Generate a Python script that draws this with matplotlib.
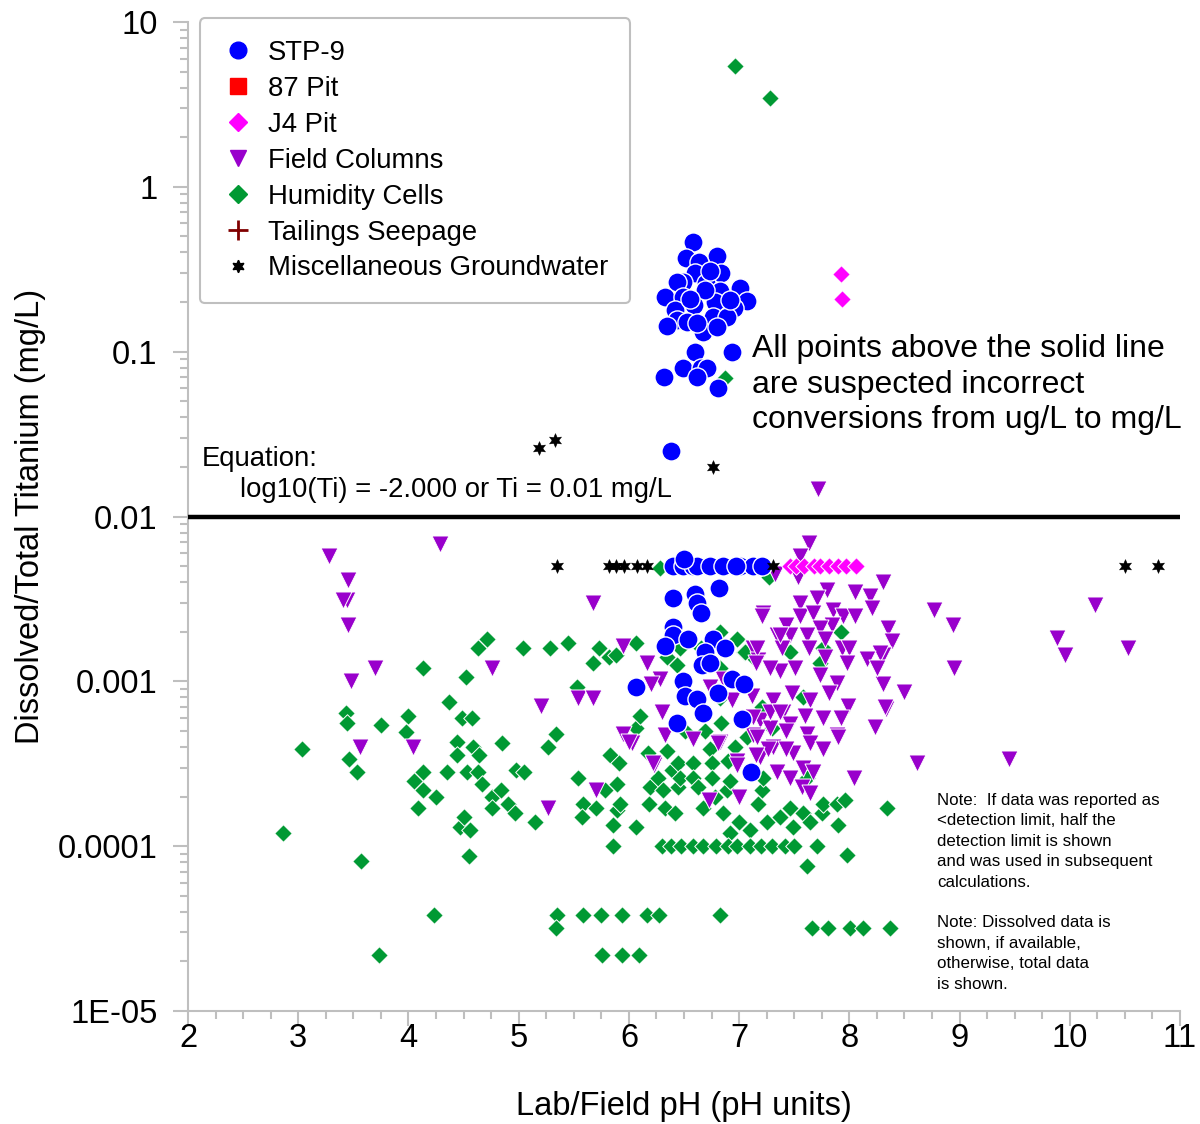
import numpy as np
import matplotlib
matplotlib.use("Agg")
import matplotlib.pyplot as plt
from matplotlib.ticker import FixedLocator, FuncFormatter, LogLocator, NullFormatter, MultipleLocator
from matplotlib.lines import Line2D

plt.rcParams['font.family'] = ['Liberation Sans', 'DejaVu Sans']

# ---- STP-9 ----
stp_ph = [6.58, 6.52, 6.80, 6.64, 6.60, 6.84, 6.49, 6.44, 6.70, 7.01, 6.33, 6.49, 6.83, 7.07,
          6.59, 6.78, 6.95, 6.42, 6.44, 6.35, 6.76, 6.67, 6.53, 6.89, 6.62, 6.80, 6.69, 6.55,
          6.92, 6.74,
          6.60, 6.94, 6.49, 6.65, 6.71, 6.32, 6.62, 6.81, 6.38,
          6.40, 6.49, 6.58, 6.62, 6.74, 6.85, 7.01, 7.13, 7.21, 6.97, 6.50,
          6.40, 6.60, 6.82, 6.62, 6.65, 6.40, 6.40, 6.54, 6.76, 6.69, 6.87, 6.33, 6.66, 6.74,
          6.94, 7.04, 6.06, 6.49, 6.51, 6.81, 6.62, 6.67, 6.44, 7.03, 7.11]
stp_ti = [0.46, 0.37, 0.38, 0.35, 0.30, 0.30, 0.265, 0.265, 0.26, 0.244, 0.215, 0.215, 0.234, 0.203,
          0.192, 0.20, 0.184, 0.18, 0.156, 0.143, 0.163, 0.132, 0.152, 0.163, 0.15, 0.141, 0.237, 0.21,
          0.205, 0.31,
          0.10, 0.10, 0.08, 0.08, 0.08, 0.07, 0.07, 0.06, 0.025,
          0.005, 0.005, 0.005, 0.005, 0.005, 0.005, 0.005, 0.005, 0.005, 0.005, 0.0055,
          0.0032, 0.0034, 0.0037, 0.0030, 0.0026, 0.00215, 0.0019, 0.0018, 0.0018, 0.0015, 0.0016,
          0.00165, 0.00125, 0.0013, 0.00104, 0.00097, 0.00092, 0.0010, 0.00082, 0.00085, 0.00078,
          0.00064, 0.00056, 0.00059, 0.00028]

# ---- 87 Pit (no results in range) ----
pit87_ph = []
pit87_ti = []

# ---- J4 Pit ----
j4_ph = [7.92, 7.93, 7.46, 7.52, 7.59, 7.68, 7.73, 7.82, 7.90, 7.97, 8.06]
j4_ti = [0.296, 0.21, 0.005, 0.005, 0.005, 0.005, 0.005, 0.005, 0.005, 0.005, 0.005]

# ---- Field Columns ----
fc_ph = [3.28, 3.45, 3.44, 3.41, 3.45, 3.70, 3.48, 3.56, 4.04, 4.29, 5.67, 4.76, 5.95, 6.16,
         6.28, 6.20, 5.54, 5.67, 5.20, 6.30, 5.95, 6.03, 6.33, 5.27, 5.70, 6.23,
         8.31, 8.77, 8.94, 8.35, 8.39, 8.31, 8.95, 8.31, 8.50, 8.33, 8.61, 9.45, 10.23, 9.88,
         9.96, 10.53, 7.72,
         7.63, 7.55, 7.33, 7.53, 7.80, 8.05, 8.19, 7.55, 7.71, 8.21, 7.22, 7.55, 7.67, 7.85,
         7.94, 8.05, 7.43, 7.84, 7.73, 7.34, 7.46, 7.62, 7.78, 7.13, 7.39, 7.63, 7.93, 8.00,
         7.17, 7.78, 8.28, 7.37, 7.51, 7.98, 8.16, 7.73, 8.25, 7.89, 7.48, 7.82, 7.12, 7.31,
         7.64, 7.99, 8.32, 7.40, 7.60, 7.76, 7.92, 7.19, 8.23, 7.28, 7.46, 7.62, 7.89, 7.13,
         7.21, 7.37, 7.16, 7.15, 7.28, 6.94, 6.85, 6.74, 6.58, 6.00, 6.83, 6.98, 7.16, 7.31,
         7.43, 7.64, 7.76, 7.90, 7.49, 7.19, 6.22, 6.73, 7.00, 6.98, 6.81, 7.34, 7.46, 7.58,
         7.67, 7.26, 7.43, 7.57, 7.64, 8.04, 7.15, 7.13, 7.28, 7.37]
fc_ti = [0.0058, 0.0041, 0.0031, 0.0031, 0.0022, 0.0012, 0.0010, 0.0004, 0.0004, 0.0068, 0.0030,
         0.0012, 0.00165, 0.0013, 0.00104, 0.00096, 0.00079, 0.00079, 0.00071, 0.00065, 0.00048,
         0.00042, 0.00047, 0.00017, 0.00022, 0.00031,
         0.0040, 0.0027, 0.0022, 0.0021, 0.00175, 0.00145, 0.0012, 0.00097, 0.00086, 0.00068,
         0.00032, 0.00034, 0.0029, 0.00184, 0.00145, 0.0016, 0.0146,
         0.0069, 0.0058, 0.0045, 0.0043, 0.0036, 0.0035, 0.0033, 0.0030, 0.0032, 0.0028, 0.0026,
         0.0025, 0.0026, 0.0027, 0.0025, 0.0025, 0.0022, 0.0022, 0.0021, 0.0019, 0.0019, 0.0019,
         0.0018, 0.0016, 0.0016, 0.0016, 0.0016, 0.0016, 0.00134, 0.0014, 0.00148, 0.00116,
         0.0012, 0.0013, 0.00137, 0.0011, 0.0012, 0.00098, 0.00085, 0.00085, 0.00082, 0.00077,
         0.00077, 0.00071, 0.0007, 0.00065, 0.00062, 0.0006, 0.0006, 0.00058, 0.00053, 0.00052,
         0.00055, 0.00048, 0.00047, 0.00047,
         0.0025, 0.0019, 0.0016, 0.0013, 0.0012, 0.00077, 0.00104, 0.00092, 0.00045, 0.00043,
         0.00043, 0.00033, 0.00046, 0.0004, 0.0005, 0.00042, 0.00039, 0.00046, 0.00037, 0.00035,
         0.00032, 0.00019, 0.0002, 0.00031, 0.00042, 0.00028, 0.00026, 0.0003, 0.00028, 0.00039,
         0.00039, 0.00023, 0.00021, 0.00026, 0.00036, 0.00061, 0.00065, 0.00065]

# ---- Humidity Cells ----
hc_ph = [6.96, 7.28, 6.87, 6.28,
         2.86, 3.03, 3.43, 3.44, 3.46, 3.53, 3.75, 3.57, 3.73, 4.00, 3.98, 4.13, 4.13, 4.05, 4.13,
         4.09, 4.25, 4.23, 4.37, 4.44, 4.44, 4.35, 4.52, 4.49, 4.58, 4.59, 4.64, 4.53, 4.63, 4.67,
         4.47, 4.56, 4.50, 4.55, 4.63, 4.71, 4.76, 4.84, 4.76, 4.90, 4.97, 4.85, 4.98, 5.05, 5.04,
         5.15, 5.27, 5.34, 5.28, 5.45, 5.35, 5.34, 5.54, 5.53, 5.58, 5.57, 5.58, 5.67, 5.73, 5.70,
         5.78, 5.75, 5.76, 5.82, 5.88, 5.83, 5.91, 5.89, 5.89, 5.92, 5.86, 5.86, 5.94, 5.94, 6.06,
         6.06, 6.06, 6.10, 6.09, 6.16, 6.27, 6.19, 6.18, 6.17, 6.26, 6.31, 6.33, 6.30, 6.35, 6.35,
         6.39, 6.45, 6.44, 6.46, 6.42, 6.45, 6.46, 6.51, 6.58, 6.58, 6.63, 6.65, 6.67, 6.69, 6.74,
         6.75, 6.75, 6.78, 6.83, 6.83, 6.83, 6.84, 6.85, 6.89, 6.90, 6.92, 6.92, 6.96, 6.98, 7.00,
         7.04, 7.07, 7.10, 7.13, 7.17, 7.21, 7.22, 7.21, 7.25, 7.27, 7.30, 7.37, 7.46, 7.46, 7.49,
         7.58, 7.58, 7.62, 7.62, 7.64, 7.66, 7.71, 7.73, 7.75, 7.76, 7.76, 7.81, 7.89, 7.90, 7.92,
         7.96, 7.98, 8.01, 8.12, 8.34, 8.37, 6.83, 7.05,
         6.38, 6.47, 6.58, 6.67, 6.79, 6.90, 6.98, 7.10, 7.20, 7.30, 7.42, 7.50]
hc_ti = [5.4, 3.46, 0.069, 0.0049,
         0.00012, 0.00039, 0.00064, 0.00056, 0.00034, 0.00028, 0.00054, 0.000081, 0.000022, 0.00062,
         0.00049, 0.0012, 0.00028, 0.00025, 0.00022, 0.00017, 0.0002, 0.000038, 0.00075, 0.00043,
         0.00036, 0.00028, 0.00106, 0.0006, 0.0006, 0.0004, 0.00036, 0.00028, 0.00028, 0.00024,
         0.00013, 0.000125, 0.00015, 0.000087, 0.0016, 0.0018, 0.0002, 0.00022, 0.00017, 0.00018,
         0.00016, 0.00042, 0.00029, 0.00028, 0.0016, 0.00014, 0.0004, 0.00048, 0.0016, 0.0017,
         0.000038, 0.000032, 0.00026, 0.00092, 0.00018, 0.00015, 0.000038, 0.0013, 0.0016, 0.00017,
         0.00022, 0.000038, 0.000022, 0.0014, 0.00145, 0.00036, 0.00032, 0.00024, 0.000165, 0.00018,
         0.000135, 0.0001, 0.000038, 0.000022, 0.00013, 0.0017, 0.00052, 0.00062, 0.000022,
         0.000038, 0.000038, 0.00023, 0.00018, 0.00037, 0.00026, 0.00022, 0.00017, 0.0001, 0.0014,
         0.00038, 0.00029, 0.00032, 0.00125, 0.0016, 0.00016, 0.00023, 0.00026, 0.0005, 0.00032,
         0.00026, 0.00023, 0.0016, 0.00017, 0.0005, 0.00039, 0.00032, 0.00026, 0.0002, 0.002,
         0.0012, 0.00079, 0.00056, 0.00016, 0.00022, 0.00033, 0.00025, 0.00012, 0.0004, 0.0018,
         0.00014, 0.0015, 0.00046, 0.000125, 0.0014, 0.00018, 0.00022, 0.00026, 0.0007, 0.00014,
         0.0043, 0.00052, 0.00015, 0.00017, 0.0015, 0.00013, 0.0008, 0.00016, 0.00026, 0.000076,
         0.00014, 0.000032, 0.0001, 0.0013, 0.00016, 0.0016, 0.00018, 0.000032, 0.00018, 0.000135,
         0.002, 0.00019, 0.000088, 0.000032, 0.000032, 0.00017, 0.000032, 0.000038, 0.0015,
         0.0001, 0.0001, 0.0001, 0.0001, 0.0001, 0.0001, 0.0001, 0.0001, 0.0001, 0.0001, 0.0001,
         0.0001]

# ---- Tailings Seepage (no results in range) ----
ts_ph = []
ts_ti = []

# ---- Miscellaneous Groundwater ----
mg_ph = [5.18, 5.33, 6.76, 5.35, 5.82, 5.88, 5.96, 6.07, 6.16, 7.31, 10.50, 10.80]
mg_ti = [0.026, 0.029, 0.020, 0.005, 0.005, 0.005, 0.005, 0.005, 0.005, 0.005, 0.005, 0.005]

# Screening threshold
threshold = 0.01

x_ticks = [2, 3, 4, 5, 6, 7, 8, 9, 10, 11]
y_ticks = [1e-5, 1e-4, 1e-3, 1e-2, 1e-1, 1, 10]
y_tick_labels = ["1E-05", "0.0001", "0.001", "0.01", "0.1", "1", "10"]

fig = plt.figure(figsize=(12, 11.24), dpi=100)
ax = fig.add_axes([0.1567, 0.1005, 0.8266, 0.8799])

grey = "#bfbfbf"
hexstar = (6, 1, 0)

ax.scatter(hc_ph, hc_ti, marker="D", s=80, c="#009933", edgecolors="white", linewidths=0.7, zorder=3)
ax.scatter(fc_ph, fc_ti, marker="v", s=150, c="#9900cc", edgecolors="white", linewidths=0.7, zorder=4)
ax.scatter(stp_ph, stp_ti, marker="o", s=190, c="#0000ff", edgecolors="white", linewidths=1.0, zorder=5)
ax.scatter(j4_ph, j4_ti, marker="D", s=80, c="#ff00ff", edgecolors="white", linewidths=0.7, zorder=5)
ax.scatter(pit87_ph, pit87_ti, marker="s", s=80, c="#ff0000", zorder=5)
ax.scatter(ts_ph, ts_ti, marker="+", s=120, c="#800000", zorder=5)
ax.scatter(mg_ph, mg_ti, marker=hexstar, s=100, c="black", edgecolors="black", linewidths=0.3, zorder=6)

ax.axhline(threshold, color="black", lw=3.2, zorder=7)

ax.set_yscale("log")
ax.set_xlim(2, 11)
ax.set_ylim(1e-5, 10)

ax.xaxis.set_major_locator(FixedLocator(x_ticks))
ax.xaxis.set_minor_locator(MultipleLocator(0.25))
ax.yaxis.set_major_locator(FixedLocator(y_ticks))
ax.yaxis.set_major_formatter(FuncFormatter(lambda v, p: dict(zip(y_ticks, y_tick_labels)).get(v, "")))
ax.yaxis.set_minor_locator(LogLocator(base=10, subs=np.arange(2, 10), numticks=20))
ax.yaxis.set_minor_formatter(NullFormatter())

for s in ["top", "right"]:
    ax.spines[s].set_visible(False)
for s in ["left", "bottom"]:
    ax.spines[s].set_color(grey)
    ax.spines[s].set_linewidth(1.5)

fs = 23.5
ax.tick_params(axis="both", which="major", direction="out", length=11, width=1.5, color=grey,
               labelsize=fs, labelcolor="black")
ax.tick_params(axis="x", which="major", pad=-2.5)
ax.tick_params(axis="y", which="major", pad=11)
ax.tick_params(axis="both", which="minor", direction="out", length=6, width=1.5, color=grey)

ax.set_xlabel("Lab/Field pH (pH units)", fontsize=fs, labelpad=27)
ax.set_ylabel("Dissolved/Total Titanium (mg/L)", fontsize=fs, labelpad=8)

ax.text(2.12, 0.0224, "Equation:", fontsize=19.8, ha="left", va="center")
ax.text(2.47, 0.0145, "log10(Ti) = -2.000 or Ti = 0.01 mg/L", fontsize=19.8, ha="left", va="center")
ax.text(7.12, 0.063, "All points above the solid line\nare suspected incorrect\nconversions from ug/L to mg/L",
        fontsize=23, ha="left", va="center", linespacing=1.23, zorder=8)
ax.text(8.80, 0.00021, "Note:  If data was reported as\n<detection limit, half the\ndetection limit is shown\n"
        "and was used in subsequent\ncalculations.\n\nNote: Dissolved data is\nshown, if available,\n"
        "otherwise, total data\nis shown.", fontsize=12.2, ha="left", va="top", linespacing=1.45)

handles = [
    Line2D([], [], ls="none", marker="o", ms=12, mfc="#0000ff", mec="#0000ff"),
    Line2D([], [], ls="none", marker="s", ms=11, mfc="#ff0000", mec="#ff0000"),
    Line2D([], [], ls="none", marker="D", ms=9, mfc="#ff00ff", mec="#ff00ff"),
    Line2D([], [], ls="none", marker="v", ms=12, mfc="#9900cc", mec="#9900cc"),
    Line2D([], [], ls="none", marker="D", ms=9, mfc="#009933", mec="#009933"),
    Line2D([], [], ls="none", marker="+", ms=14, mew=2, color="#800000"),
    Line2D([], [], ls="none", marker=hexstar, ms=9, mfc="black", mec="black"),
]
labels = ["STP-9", "87 Pit", "J4 Pit", "Field Columns", "Humidity Cells", "Tailings Seepage",
          "Miscellaneous Groundwater"]
leg = ax.legend(handles, labels, loc="upper left", bbox_to_anchor=(0.012, 1.004), fontsize=19.8,
                frameon=True, fancybox=True, edgecolor=grey, framealpha=1, borderpad=0.8,
                labelspacing=0.36, handletextpad=0.47, handlelength=1.2, borderaxespad=0)
leg.get_frame().set_linewidth(1.5)
leg.set_zorder(10)

fig.savefig("out.png", dpi=100, facecolor="white")
